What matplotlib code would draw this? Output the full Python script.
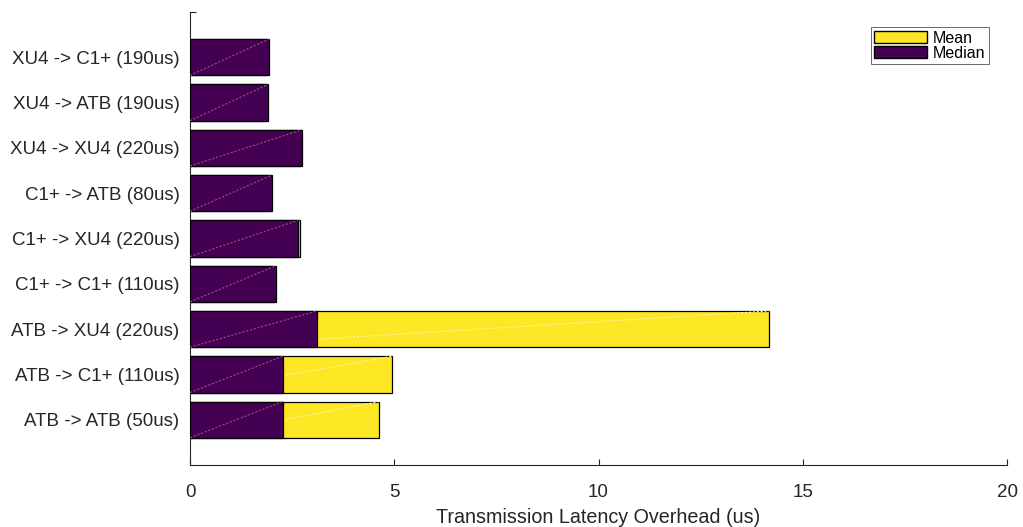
import matplotlib
matplotlib.use("Agg")
import matplotlib.pyplot as plt
from matplotlib.patches import Patch

plt.rcParams['font.family'] = ['Liberation Sans', 'DejaVu Sans']

# Routes, bottom to top
routes = ["ATB -> ATB (50us)", "ATB -> C1+ (110us)", "ATB -> XU4 (220us)",
          "C1+ -> C1+ (110us)", "C1+ -> XU4 (220us)", "C1+ -> ATB (80us)",
          "XU4 -> XU4 (220us)", "XU4 -> ATB (190us)", "XU4 -> C1+ (190us)"]
mean_us = [4.63, 4.95, 14.17, 2.05, 2.69, 1.95, 2.70, 1.86, 1.88]
median_us = [2.27, 2.27, 3.10, 2.10, 2.64, 2.00, 2.74, 1.91, 1.93]

PURPLE = "#440154"
YELLOW = "#FDE725"
TEXT = "#262626"

fig = plt.figure(figsize=(10.23, 5.27), dpi=100)
ax = fig.add_axes([190/1023, 1 - 465/527, 817/1023, 453/527])

pos = list(range(1, len(routes) + 1))
h = 0.8


def bars_with_diag(values, color, diag_color, z):
    bars = ax.barh(pos, values, height=h, color=color, edgecolor="black",
                   linewidth=0.9, zorder=z)
    for b in bars:
        x0, y0 = b.get_x(), b.get_y()
        ax.plot([x0, x0 + b.get_width()], [y0, y0 + b.get_height()],
                color=diag_color, lw=0.8, ls=(0, (2, 1.5)), zorder=z + 0.1)
    return bars


bars_with_diag(mean_us, YELLOW, "#fff4a8", 2)
bars_with_diag(median_us, PURPLE, "#9a4f73", 3)

ax.set_xlim(0, 20)
ax.set_ylim(0, 10)
ax.set_xticks([0, 5, 10, 15, 20])
ax.set_yticks(pos + [10])
ax.set_yticklabels(routes + [""])
ax.tick_params(axis="both", direction="in", labelsize=13.5, colors=TEXT,
               length=4, width=0.8)
ax.tick_params(axis="x", pad=14)
ax.tick_params(axis="y", pad=7.5)
for s in ("top", "right"):
    ax.spines[s].set_visible(False)
for s in ("left", "bottom"):
    ax.spines[s].set_color(TEXT)
    ax.spines[s].set_linewidth(0.8)

ax.set_xlabel("Transmission Latency Overhead (us)", fontsize=14.2,
              color=TEXT, labelpad=5)

handles = [Patch(facecolor=YELLOW, edgecolor="black", label="Mean"),
           Patch(facecolor=PURPLE, edgecolor="black", label="Median")]
leg = ax.legend(handles=handles, loc="upper right", bbox_to_anchor=(0.9775, 0.966),
                fontsize=11.5, frameon=True, fancybox=False, borderpad=0.2,
                handlelength=3.3, handleheight=0.8, handletextpad=0.4,
                labelspacing=0.0, borderaxespad=0)
leg.get_frame().set_edgecolor(TEXT)
leg.get_frame().set_linewidth(0.6)

fig.savefig("out.png", dpi=100)
